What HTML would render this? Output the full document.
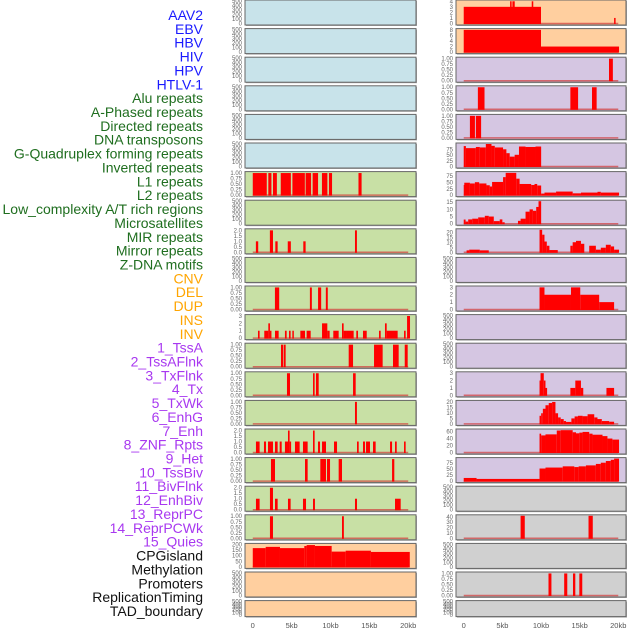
<!DOCTYPE html>
<html><head><meta charset="utf-8"><style>
html,body{margin:0;padding:0;background:#fff;width:630px;height:630px;overflow:hidden}
svg{display:block;font-family:"Liberation Sans",sans-serif}
</style></head><body>
<svg id="chart" width="630" height="630" viewBox="0 0 630 630"></svg>
<script>
// ---- data ----
const trackNames = ["AAV2","EBV","HBV","HIV","HPV","HTLV-1","Alu repeats","A-Phased repeats","Directed repeats","DNA transposons","G-Quadruplex forming repeats","Inverted repeats","L1 repeats","L2 repeats","Low_complexity A/T rich regions","Microsatellites","MIR repeats","Mirror repeats","Z-DNA motifs","CNV","DEL","DUP","INS","INV","1_TssA","2_TssAFlnk","3_TxFlnk","4_Tx","5_TxWk","6_EnhG","7_Enh","8_ZNF_Rpts","9_Het","10_TssBiv","11_BivFlnk","12_EnhBiv","13_ReprPC","14_ReprPCWk","15_Quies","CPGisland","Methylation","Promoters","ReplicationTiming","TAD_boundary"];
const labelColors = ["#1a1aff","#1a1aff","#1a1aff","#1a1aff","#1a1aff","#1a1aff","#1f6e1f","#1f6e1f","#1f6e1f","#1f6e1f","#1f6e1f","#1f6e1f","#1f6e1f","#1f6e1f","#1f6e1f","#1f6e1f","#1f6e1f","#1f6e1f","#1f6e1f","#ffa500","#ffa500","#ffa500","#ffa500","#ffa500","#a838f0","#a838f0","#a838f0","#a838f0","#a838f0","#a838f0","#a838f0","#a838f0","#a838f0","#a838f0","#a838f0","#a838f0","#a838f0","#a838f0","#a838f0","#111","#111","#111","#111","#111"];
const panelFills = ["#c8e3ea","#c8e3ea","#c8e3ea","#c8e3ea","#c8e3ea","#c8e3ea","#c8e0a5","#c8e0a5","#c8e0a5","#c8e0a5","#c8e0a5","#c8e0a5","#c8e0a5","#c8e0a5","#c8e0a5","#c8e0a5","#c8e0a5","#c8e0a5","#c8e0a5","#ffcf9f","#ffcf9f","#ffcf9f","#ffcf9f","#ffcf9f","#d5c6e2","#d5c6e2","#d5c6e2","#d5c6e2","#d5c6e2","#d5c6e2","#d5c6e2","#d5c6e2","#d5c6e2","#d5c6e2","#d5c6e2","#d5c6e2","#d5c6e2","#d5c6e2","#d5c6e2","#d0d0d0","#d0d0d0","#d0d0d0","#d0d0d0","#d0d0d0"];
const xTicks = [0,5000,10000,15000,20000];
const xTickLabels = ["0","5kb","10kb","15kb","20kb"];
const emptyTicks = [0,100,200,300,400,500];
const binTicks = [0,0.25,0.5,0.75,1];
// segments [startKb, endKb, value] per panel index
const segs = {};
segs[6] = [[0,1.8,1],[2.0,2.4,1],[2.6,3.1,1],[3.6,4.9,1],[5.1,6.7,1],[6.8,7.5,1],[7.7,8.4,1],[8.9,9.6,1],[9.8,10.2,1],[13.6,14.0,1]];
segs[8] = [[0.4,0.7,1],[2.2,2.6,2],[2.9,3.2,1],[4.5,4.9,1],[6.5,6.8,1],[13.15,13.4,2]];
segs[10] = [[2.85,3.4,1],[7.35,7.6,1],[8.4,8.8,1],[9.4,9.65,1]];
segs[11] = [[0.67,0.88,1],[1.48,2.0,1],[2.0,2.21,2],[2.21,2.34,1],[2.86,3.33,1],[4.14,4.36,1],[4.66,4.87,1],[5.09,5.26,1],[6.12,6.72,1],[6.93,7.45,1],[8.91,9.59,2],[9.59,9.89,1],[10.36,11.05,1],[11.48,11.69,2],[11.69,12.12,1],[12.12,12.98,1],[13.32,13.54,1],[14.18,14.66,1],[16.24,16.46,1],[17.01,17.23,2],[17.23,18.64,1],[19.46,19.67,1],[19.85,20.23,3]];
segs[12] = [[3.63,3.89,1],[3.97,4.23,1],[12.34,12.9,1],[15.6,16.71,1],[18.04,18.77,1],[19.55,19.93,1]];
segs[13] = [[4.4,4.79,1],[7.75,7.96,1],[8.13,8.48,1],[12.9,13.24,1]];
segs[14] = [[13.15,13.4,1]];
segs[15] = [[0.41,0.88,1],[1.44,1.70,1],[1.96,2.6,1],[2.86,3.2,1],[3.46,3.72,1],[4.14,4.53,1],[4.53,4.74,2],[4.74,4.92,1],[5.43,6.03,1],[6.46,7.06,1],[7.75,7.96,2],[8.39,8.65,1],[8.91,9.42,1],[10.45,10.84,1],[13.41,13.63,1],[14.18,14.44,1],[14.57,15.08,1],[15.47,15.81,1],[17.66,17.92,1],[18.3,18.52,1],[19.46,19.67,1]];
segs[16] = [[2.34,2.86,1],[6.72,7.06,1],[8.69,9.42,1],[9.55,9.94,1],[11.05,11.48,1],[17.92,18.21,1]];
segs[17] = [[0.41,0.88,1],[2.21,2.6,2],[2.86,3.2,1],[4.53,4.87,1],[6.46,6.85,1],[7.75,8.0,1],[13.15,13.41,1],[18.3,19.03,1]];
segs[18] = [[2.21,2.6,1],[11.48,11.72,1]];
segs[19] = [[0,1.66,167],[1.66,3.5,178],[3.5,6.63,167],[6.63,6.93,186],[6.93,8.0,194],[8.0,10.15,186],[10.15,11.95,136],[11.95,15.2,144],[15.2,20.2,133]];
segs[22] = [[0,10.0,3],[6.0,6.2,4],[6.3,6.6,4],[8.8,9.0,4],[19.46,19.6,1]];
segs[23] = [[0,10.0,8],[10.0,20.1,2]];
segs[24] = [[18.8,19.3,1]];
segs[25] = [[1.83,2.69,1],[13.8,14.8,1],[16.6,17.2,1]];
segs[26] = [[0.8,1.45,1],[1.57,2.25,1]];
segs[27] = [[0,0.28,89],[0.28,1.57,80],[1.57,2.08,85],[2.08,2.86,83],[2.86,3.59,98],[3.59,4.02,90],[4.02,5.09,83],[5.09,5.52,75],[5.52,5.95,58],[5.95,6.59,43],[6.59,7.15,51],[7.15,8.0,87],[8.0,9.29,85],[9.29,10.02,87]];
segs[28] = [[0,0.07,40],[0.07,0.8,49],[0.8,1.44,46],[1.44,2.0,51],[2.0,2.94,46],[2.94,3.37,39],[3.37,3.67,34],[3.67,5.09,52],[5.09,5.43,71],[5.43,6.8,88],[6.8,7.23,65],[7.23,8.73,44],[8.73,9.16,40],[9.16,9.51,44],[9.51,10.02,38],[10.02,10.45,6],[10.45,11.95,10],[11.95,14.1,14],[14.1,15.17,7],[15.17,17.31,10],[17.31,17.74,13],[17.74,20.1,10]];
segs[29] = [[0,0.24,2.9],[0.24,0.58,1.5],[0.58,1.1,3],[1.1,1.87,3.5],[1.87,2.73,4.4],[2.73,3.24,5.5],[3.24,3.89,5],[3.89,4.66,1.8],[4.66,5.0,3],[5.0,5.3,1],[7.02,7.36,2],[7.36,8.0,3.5],[8.0,8.52,8.4],[8.52,8.95,10],[8.95,9.38,9],[9.38,9.68,11.7],[9.68,10.02,15.7]];
segs[30] = [[0.37,0.71,2],[0.71,2.08,2.7],[2.08,3.24,2],[9.81,10.15,23],[10.15,10.45,18],[10.45,10.75,11],[10.75,11.09,6.7],[11.09,12.17,2.3],[13.8,14.1,6.7],[14.1,14.53,10.3],[14.53,15.17,11.7],[15.17,15.6,8.7],[16.24,17.1,6.7],[17.1,17.74,2.7],[17.74,18.39,4.7],[18.39,19.03,7.7],[19.03,19.46,6],[19.46,20.1,2.7]];
segs[32] = [[9.81,10.45,3],[10.45,13.88,2],[13.88,15.08,3],[15.08,17.53,2],[17.53,19.46,1]];
segs[35] = [[9.81,9.94,2],[9.94,10.36,3],[10.36,10.58,2],[10.58,10.79,1],[13.8,14.44,1],[14.44,15.17,2],[15.17,15.47,1],[18.47,19.46,1]];
segs[36] = [[9.81,10.02,7.4],[10.02,10.24,9.7],[10.24,10.58,13.8],[10.58,11.0,17],[11.0,11.44,19],[11.44,11.87,20],[11.87,12.21,9.7],[12.21,12.55,5.9],[12.55,12.94,4.4],[12.94,13.24,2.6],[13.24,13.93,1.8],[13.93,14.35,5],[14.35,14.78,6.8],[14.78,15.38,7.4],[15.38,16.03,7],[16.03,16.89,8.8],[16.89,17.31,5.9],[17.31,17.87,4.4],[17.87,18.82,2.6],[18.82,19.46,2]];
segs[37] = [[9.81,10.02,54],[10.02,10.58,49],[10.58,12.04,52],[12.04,12.55,63],[12.55,14.1,64],[14.1,14.53,58],[14.53,14.96,55],[14.96,15.38,57],[15.38,16.24,59],[16.24,16.67,54],[16.67,17.96,51],[17.96,18.6,47],[18.6,19.24,40],[19.24,20.1,37]];
segs[38] = [[0,1.66,13],[1.66,9.81,9],[9.81,10.58,52],[10.58,12.81,56],[12.81,14.31,61],[14.31,14.87,58],[14.87,15.81,61],[15.81,17.1,65],[17.1,17.74,71],[17.74,18.39,76],[18.39,19.03,83],[19.03,19.46,88],[19.46,20.1,93]];
segs[40] = [[7.36,7.9,42],[16.15,16.7,42]];
segs[42] = [[10.97,11.35,1],[13.0,13.4,1],[14.14,14.44,1],[14.96,15.34,1]];
// y max and tick values per panel (missing = empty 0-500)
const yMax = {6:1.02,8:2.05,10:1.02,11:3.05,12:1.02,13:1.02,14:1.02,15:2.05,16:1.02,17:2.05,18:1.02,19:200,22:4.05,23:8.1,24:1.02,25:1.02,26:1.02,27:98,28:89,29:15.7,30:23,32:3.05,35:3.05,36:20.5,37:64.5,38:93,40:42,42:1.02};
const yTicks = {8:[0,0.5,1,1.5,2],11:[0,1,2,3],15:[0,0.5,1,1.5,2],17:[0,0.5,1,1.5,2],19:[0,50,100,150,200],22:[0,1,2,3,4],23:[0,2,4,6,8],27:[0,25,50,75],28:[0,25,50,75],29:[0,5,10,15],30:[0,5,10,15,20],32:[0,1,2,3],35:[0,1,2,3],36:[0,5,10,15,20],37:[0,20,40,60],38:[0,25,50,75],40:[0,10,20,30,40]};

// ---- drawing ----
const NS = "http://www.w3.org/2000/svg";
const svg = document.getElementById("chart");
function mk(tag, attrs, parent){const e=document.createElementNS(NS,tag);for(const k in attrs)e.setAttribute(k,attrs[k]);(parent||svg).appendChild(e);return e;}
const colX = [245, 456], colW = [171, 170], rowStep = 28.6;
function xScale(col, bp){return colX[col] + (bp + 1000) / 22000 * colW[col];}

// labels
trackNames.forEach((n,i)=>{
  const t = mk("text",{x:203,y:15+i*13.86+5,"text-anchor":"end","font-size":"14",fill:labelColors[i]});
  t.textContent = n;
  
  
});

for (let p=0; p<44; p++){
  const col = p < 22 ? 0 : 1, row = p % 22;
  const y0 = row*rowStep, h = row===21 ? 16 : 25, x0 = colX[col], w = colW[col];
  const g = mk("g",{});
  
  
  mk("rect",{x:x0+1,y:y0+1,width:w,height:h,fill:"#aaa"},g);
  mk("rect",{x:x0,y:y0,width:w,height:h,fill:panelFills[p],stroke:"#666","stroke-width":1},g);
  const hasData = yMax[p] !== undefined;
  const ym = hasData ? yMax[p] : 500;
  const ticks = yTicks[p] || (hasData ? binTicks : emptyTicks);
  const yb = y0 + h - 1.5, yt = y0 + 1;
  const Y = v => yb - v/ym*(yb-yt);
  ticks.forEach(v=>{
    const t = mk("text",{x:x0-3,y:Y(v)+2,"text-anchor":"end","font-size":"6",fill:"#666"},g);
    t.textContent = (ticks===binTicks) ? v.toFixed(2) : ((ticks===yTicks[p] && ticks.some(q=>q%1)) ? v.toFixed(1) : String(v));
    
    
  });
  if (hasData) {
    const bl = mk("line",{x1:xScale(col,0),x2:xScale(col,20000),y1:yb,y2:yb,stroke:"rgba(210,60,60,0.7)","stroke-width":1.5},g);
    
    
  }
  (segs[p]||[]).forEach(s=>{
    const xa = xScale(col, s[0]*1000), xb = xScale(col, s[1]*1000);
    const r = mk("rect",{x:xa,y:Y(s[2]),width:Math.max(1.5,xb-xa),height:yb-Y(s[2])+0.5,fill:"#ff0000"},g);
    
    
  });
}
// x axes
[0,1].forEach(col=>{
  xTicks.forEach((v,i)=>{
    const t = mk("text",{x:xScale(col,v),y:628,"text-anchor":"middle","font-size":"7.5",fill:"#555"});
    t.textContent = xTickLabels[i];
    
    
  });
});
</script>
</body></html>
